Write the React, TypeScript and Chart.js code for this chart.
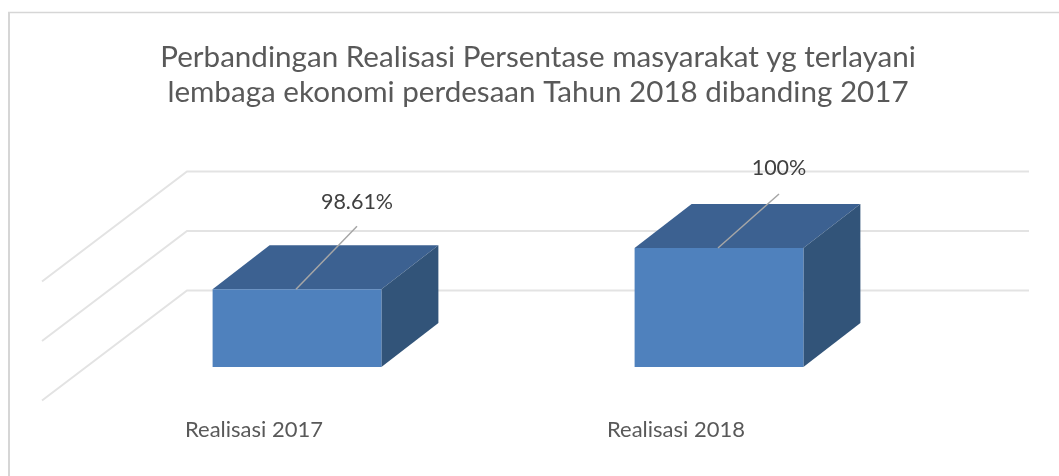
import { useEffect, useRef } from "react";
import { Chart, registerables } from "chart.js";

Chart.register(...registerables);

const categories = ["Realisasi 2017", "Realisasi 2018"];
const realisasi = [98.61, 100];
const valueLabels = ["98.61%", "100%"];
const titleLines = [
  "Perbandingan Realisasi Persentase masyarakat yg terlayani",
  "lembaga ekonomi perdesaan Tahun 2018 dibanding 2017",
];

const FONT = "Lato, 'Noto Sans', sans-serif";
const DEPTH_X = 57;
const DEPTH_Y = 44;
const LEADER_RISE = [63, 54];
const LABEL_GAP = [24, 26];

const backdrop = {
  id: "backdrop",
  beforeDraw(chart: any) {
    const { ctx, chartArea, scales } = chart;
    ctx.save();
    // outer frame
    ctx.strokeStyle = "#d6d6d6";
    ctx.lineWidth = 2;
    ctx.beginPath();
    ctx.moveTo(9, 476);
    ctx.lineTo(9, 12.5);
    ctx.stroke();
    ctx.lineWidth = 1.5;
    ctx.beginPath();
    ctx.moveTo(8, 12.5);
    ctx.lineTo(1059, 12.5);
    ctx.stroke();
    // gridlines: floor-to-wall bend, then along the back wall
    ctx.strokeStyle = "#e3e3e3";
    ctx.lineWidth = 2;
    for (const t of scales.y.ticks) {
      const y = scales.y.getPixelForValue(t.value);
      ctx.beginPath();
      ctx.moveTo(chartArea.left - 44, y + 33.5);
      ctx.lineTo(chartArea.left + 101, y - 76.5);
      ctx.lineTo(chartArea.right + 99, y - 76.5);
      ctx.stroke();
    }
    ctx.restore();
  },
};

const box3d = {
  id: "box3d",
  beforeDatasetsDraw(chart: any) {
    const { ctx, chartArea } = chart;
    const meta = chart.getDatasetMeta(0);
    ctx.save();
    meta.data.forEach((bar: any) => {
      const half = bar.width / 2;
      const l = bar.x - half;
      const r = bar.x + half;
      const t = bar.y;
      const b = chartArea.bottom;
      ctx.fillStyle = "#3c6191";
      ctx.beginPath();
      ctx.moveTo(l, t);
      ctx.lineTo(l + DEPTH_X, t - DEPTH_Y);
      ctx.lineTo(r + DEPTH_X, t - DEPTH_Y);
      ctx.lineTo(r, t);
      ctx.closePath();
      ctx.fill();
      ctx.fillStyle = "#325479";
      ctx.beginPath();
      ctx.moveTo(r, t);
      ctx.lineTo(r + DEPTH_X, t - DEPTH_Y);
      ctx.lineTo(r + DEPTH_X, b - DEPTH_Y);
      ctx.lineTo(r, b);
      ctx.closePath();
      ctx.fill();
    });
    ctx.restore();
  },
  afterDatasetsDraw(chart: any) {
    const { ctx } = chart;
    const meta = chart.getDatasetMeta(0);
    ctx.save();
    meta.data.forEach((bar: any, i: number) => {
      const x = bar.x - 1;
      const endX = x + 61;
      const endY = bar.y - LEADER_RISE[i];
      ctx.strokeStyle = "#a6a6a6";
      ctx.lineWidth = 1.5;
      ctx.beginPath();
      ctx.moveTo(x, bar.y);
      ctx.lineTo(endX, endY);
      ctx.stroke();
      ctx.fillStyle = "#404040";
      ctx.font = `21.5px ${FONT}`;
      ctx.textAlign = "center";
      ctx.textBaseline = "middle";
      ctx.fillText(valueLabels[i], endX, endY - LABEL_GAP[i]);
    });
    ctx.restore();
  },
};

const hiddenAxis = (position: string, width: number) => ({
  position,
  min: 96,
  max: 100,
  ticks: { stepSize: 2, display: false },
  grid: { display: false },
  border: { display: false },
  afterFit(scale: any) {
    scale.width = width;
  },
});

export default function App() {
  const ref = useRef<HTMLCanvasElement>(null);
  useEffect(() => {
    document.body.style.margin = "0";
    const chart = new Chart(ref.current as HTMLCanvasElement, {
      type: "bar",
      data: {
        labels: categories,
        datasets: [
          {
            data: realisasi,
            yAxisID: "y",
            backgroundColor: "#4f81bd",
            borderWidth: 0,
            categoryPercentage: 1,
            barPercentage: 0.4,
          },
        ],
      },
      plugins: [backdrop, box3d],
      options: {
        responsive: false,
        animation: false,
        layout: { padding: { left: 17, right: 0, top: 0, bottom: 0 } },
        plugins: {
          legend: { display: false },
          tooltip: { enabled: false },
          title: {
            display: true,
            text: titleLines,
            color: "#595959",
            font: { family: FONT, size: 29.6, weight: "normal", lineHeight: 1.18 },
            padding: { top: 40, bottom: 138.1 },
          },
        },
        scales: {
          y: hiddenAxis("left", 69),
          yRight: hiddenAxis("right", 129),
          x: {
            grid: { display: false },
            border: { display: false },
            afterFit(scale: any) {
              scale.height = 109;
            },
            ticks: {
              color: "#595959",
              font: { family: FONT, size: 22 },
              labelOffset: -43,
              padding: 42,
              maxRotation: 0,
            },
          },
        },
      },
    } as any);
    return () => chart.destroy();
  }, []);
  return <canvas ref={ref} width={1059} height={476} style={{ display: "block" }} />;
}
